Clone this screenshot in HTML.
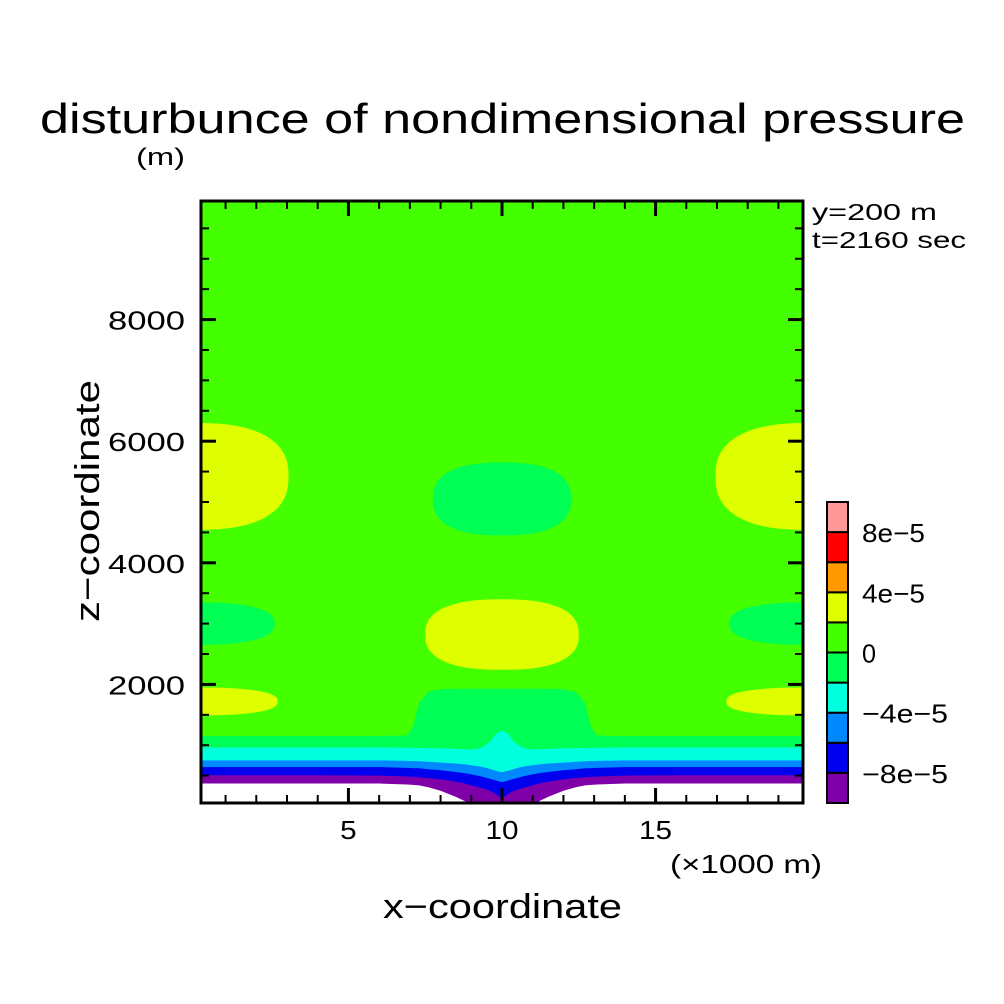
<!DOCTYPE html>
<html><head><meta charset="utf-8"><style>
html,body{margin:0;padding:0;background:#fff}
svg{display:block;font-family:"Liberation Sans",sans-serif}
</style></head><body>
<svg id="chart" width="1004" height="1004" viewBox="0 0 1004 1004" xmlns="http://www.w3.org/2000/svg">
<defs><clipPath id="clip"><rect x="201" y="201" width="602" height="602"/></clipPath></defs>
<rect x="0" y="0" width="1004" height="1004" fill="#fff"/>
<text x="40" y="133" font-size="42" textLength="925" lengthAdjust="spacingAndGlyphs">disturbunce of nondimensional pressure</text>
<text x="136" y="165" font-size="24" textLength="49" lengthAdjust="spacingAndGlyphs">(m)</text>
<text x="812" y="220" font-size="23" textLength="125" lengthAdjust="spacingAndGlyphs">y=200 m</text>
<text x="812" y="248" font-size="23" textLength="154" lengthAdjust="spacingAndGlyphs">t=2160 sec</text>
<g id="plot" clip-path="url(#clip)"></g>
<g id="axes"></g>
<g id="cbar"></g>
<text x="670" y="873" font-size="26" textLength="152" lengthAdjust="spacingAndGlyphs">(×1000 m)</text>
<text x="383" y="918" font-size="34" textLength="239" lengthAdjust="spacingAndGlyphs">x−coordinate</text>
<text transform="translate(99,622) rotate(-90)" font-size="34" textLength="242" lengthAdjust="spacingAndGlyphs">z−coordinate</text>
</svg>
<script>
// ---- data ----
const levelColors = ["#ffffff","#7f00a8","#0000ee","#0088ff","#00ffdd","#00ff55","#44ff00","#dfff00","#ff9900","#ff0000","#ff9999"];
const cbarColors = ["#7f00a8","#0000ee","#0088ff","#00ffdd","#00ff55","#44ff00","#dfff00","#ff9900","#ff0000","#ff9999"];
const cbarLabels = ["−8e−5","−4e−5","0","4e−5","8e−5"];
const cbarLabelIndex = [1,3,5,7,9];
const profileX = [0.2,2,4,6,6.9,7.1,7.3,7.6,8,8.5,8.8,9,9.3,9.6,9.8,10];
const topGreen2 = [1150,1150,1150,1150,1160,1300,1700,1880,1920,1930,1930,1930,1930,1930,1930,1930];
const topCyan   = [965,965,965,965,960,958,955,953,950,940,935,930,950,1050,1190,1240];
const topLBlue  = [750,750,750,750,742,740,738,730,715,700,685,670,650,610,580,555];
const topDBlue  = [640,640,640,640,628,624,620,605,590,560,540,520,490,450,420,390];
const topPurple = [505,505,505,500,485,480,475,460,440,400,370,340,300,250,200,120];
const topWhite  = [370,370,370,370,355,348,340,310,250,150,80,0,0,0,0,0];
const blobCx = [0,20,10,0,20,10,0,20];
const blobCz = [5420,5420,5050,3000,3000,2820,1720,1720];
const blobRx = [3.05,3.05,2.25,2.6,2.6,2.5,2.7,2.7];
const blobRz = [880,880,600,350,350,580,230,230];
const blobLevel = [7,7,5,5,5,7,7,7];
const xMajor = [5,10,15];
const yMajor = [2000,4000,6000,8000];
// ---- axes functions ----
const X0=201,X1=803,Y0=803,Y1=201,xmin=0.2,xmax=19.8,zmin=50,zmax=9950;
const sx = x => X0+(x-xmin)/(xmax-xmin)*(X1-X0);
const sz = z => Y0-(z-zmin)/(zmax-zmin)*(Y0-Y1);
const NS="http://www.w3.org/2000/svg";
function mk(tag,attrs,parent){const e=document.createElementNS(NS,tag);for(const k in attrs)e.setAttribute(k,attrs[k]);parent.appendChild(e);return e;}
const plot=document.getElementById('plot');
let bg=mk('rect',{x:X0,y:Y1,width:X1-X0,height:Y0-Y1,fill:levelColors[6]},plot);


// blobs (superellipse-ish for flatter sides)
blobCx.forEach((cx,i)=>{
  const rx=Math.abs(sx(cx+blobRx[i])-sx(cx)), ry=Math.abs(sz(blobCz[i]+blobRz[i])-sz(blobCz[i]));
  const cxp=sx(cx), cyp=sz(blobCz[i]);
  let d='';
  for(let k=0;k<=72;k++){
    const t=k/72*2*Math.PI, c=Math.cos(t), s=Math.sin(t);
    const px=cxp+rx*Math.sign(c)*Math.pow(Math.abs(c),0.8);
    const py=cyp+ry*Math.sign(s)*Math.pow(Math.abs(s),0.8);
    d+=(k?' L':'M')+px.toFixed(1)+','+py.toFixed(1);
  }
  const e=mk('path',{d:d+' Z',fill:levelColors[blobLevel[i]]},plot);
  
  
});
// bands
const bands=[[topGreen2,5,'band-neg-2e-5'],[topCyan,4,'band-neg-4e-5'],[topLBlue,3,'band-neg-6e-5'],[topDBlue,2,'band-neg-8e-5'],[topPurple,1,'band-neg-1e-4'],[topWhite,0,'band-below-neg-1e-4']];
bands.forEach(([prof,lv,name])=>{
  const xs=[...profileX, ...profileX.slice(0,-1).reverse().map(x=>20-x)];
  const zs=[...prof, ...prof.slice(0,-1).reverse()];
  let d='M'+sx(xs[0])+','+(Y0+5);
  d+=' L'+(X0-5)+','+(Y0+5)+' L'+(X0-5)+','+sz(zs[0]);
  xs.forEach((x,i)=>{d+=' L'+sx(x).toFixed(1)+','+sz(Math.max(zs[i],0)).toFixed(1);});
  d+=' L'+(X1+5)+','+sz(zs[zs.length-1])+' L'+(X1+5)+','+(Y0+5)+' Z';
  const p=mk('path',{d:d,fill:levelColors[lv]},plot);
  
  
});
// axes
const ax=document.getElementById('axes');
const frame=mk('rect',{x:X0,y:Y1,width:X1-X0,height:Y0-Y1,fill:'none',stroke:'#000','stroke-width':3},ax);


for(let x=1;x<=19;x++){
  const M=xMajor.includes(x);const L=M?15:8;
  mk('line',{x1:sx(x),x2:sx(x),y1:Y0,y2:Y0-L,stroke:'#000','stroke-width':M?3:2},ax);
  mk('line',{x1:sx(x),x2:sx(x),y1:Y1,y2:Y1+L,stroke:'#000','stroke-width':M?3:2},ax);
}
xMajor.forEach(x=>{
  const s=String(x);
  const t=mk('text',{x:sx(x),y:839,'font-size':26,'text-anchor':'middle',textLength:s.length*16.5,lengthAdjust:'spacingAndGlyphs'},ax);
  t.textContent=s;
  
  
});
for(let z=500;z<=9500;z+=500){
  const M=yMajor.includes(z);const L=M?15:8;
  mk('line',{x1:X0,x2:X0+L,y1:sz(z),y2:sz(z),stroke:'#000','stroke-width':M?3:2},ax);
  mk('line',{x1:X1,x2:X1-L,y1:sz(z),y2:sz(z),stroke:'#000','stroke-width':M?3:2},ax);
}
yMajor.forEach(z=>{
  const t=mk('text',{x:185,y:sz(z)+10,'font-size':26,'text-anchor':'end',textLength:77,lengthAdjust:'spacingAndGlyphs'},ax);
  t.textContent=String(z);
  
  
});
// colorbar
const cb=document.getElementById('cbar');
const cbX=827,cbW=21,cbTop=502,cbBot=803,seg=(cbBot-cbTop)/cbarColors.length;
cbarColors.forEach((c,i)=>{
  const r=mk('rect',{x:cbX,y:cbBot-(i+1)*seg,width:cbW,height:seg,fill:c,stroke:'#000','stroke-width':2},cb);
  
  
});
cbarLabels.forEach((s,i)=>{
  const y=cbBot-cbarLabelIndex[i]*seg;
  const w=s.length===1?14:(s.length===4?63:86);
  const t=mk('text',{x:862,y:y+10,'font-size':26,textLength:w,lengthAdjust:'spacingAndGlyphs'},cb);
  t.textContent=s;
  
  
});
</script>
</body></html>
